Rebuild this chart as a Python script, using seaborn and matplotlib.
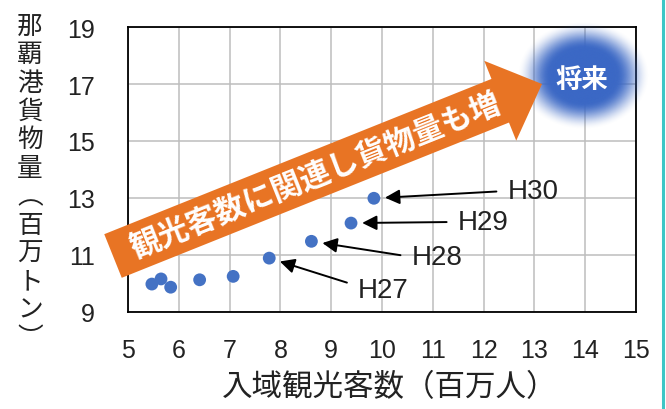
import matplotlib
matplotlib.use("Agg")
import matplotlib.pyplot as plt
import matplotlib.transforms as mtransforms
from matplotlib.colors import to_rgb
from matplotlib.lines import Line2D
from matplotlib.patches import FancyArrow
import numpy as np
import pandas as pd
import seaborn as sns


# tourists entering Okinawa (million) vs Naha port cargo (million t)
visitors = [5.47, 5.65, 5.84, 6.41, 7.07, 7.78, 8.61, 9.39, 9.84]
cargo = [9.98, 10.16, 9.87, 10.13, 10.25, 10.89, 11.48, 12.12, 12.99]

year_labels = ["H27", "H28", "H29", "H30"]
year_index = [5, 6, 7, 8]
year_label_x = [9.53, 10.59, 11.50, 12.48]
year_label_y = [9.77, 10.93, 12.16, 13.25]

x_ticks = list(range(5, 16))
y_ticks = [9, 11, 13, 15, 17, 19]

x_label = "入域観光客数（百万人）"
y_label = ["那", "覇", "港", "貨", "物", "量", "︵", "百", "万", "ト", "ン", "︶"]
arrow_text = "観光客数に関連し貨物量も増"
future_text = "将来"

CJK = "Noto Sans CJK JP"
ORANGE = "#E87424"
BLUE = "#4472C4"


def main() -> None:
    sns.set_theme(style="white")
    plt.rcParams["font.family"] = ["Liberation Sans", CJK]

    fig = plt.figure(figsize=(6.66, 4.10), dpi=100)
    ax = fig.add_axes([0.1922, 0.2366, 0.7628, 0.6951])
    # image pixel coords (origin top-left) for the slide decorations
    px = mtransforms.Affine2D().scale(1 / 100, -1 / 100).translate(0, 4.10) + fig.dpi_scale_trans

    df = pd.DataFrame({"visitors": visitors, "cargo": cargo})
    sns.scatterplot(data=df, x="visitors", y="cargo", ax=ax, color=BLUE, s=85,
                    edgecolor="none", zorder=3)

    ax.set_xticks(x_ticks)
    ax.set_yticks(y_ticks)
    ax.grid(True, color="#BDBDBD", linewidth=1.1)
    ax.set_axisbelow(True)
    ax.tick_params(axis="both", length=0, labelsize=18, colors="#222222")
    ax.tick_params(axis="x", pad=19)
    ax.tick_params(axis="y", pad=24)
    for sp in ax.spines.values():
        sp.set_color("black")
        sp.set_linewidth(1.3)
    ax.set_xlabel("")
    ax.set_ylabel("")

    for lab, i, tx, ty in zip(year_labels, year_index, year_label_x, year_label_y):
        rel_y = 0.65 if lab == "H27" else 0.5
        ax.annotate(
            lab,
            xy=(visitors[i], cargo[i]),
            xytext=(tx, ty),
            fontsize=20,
            color="#222222",
            ha="left",
            va="center",
            zorder=6,
            arrowprops=dict(arrowstyle="-|>", color="black", lw=1.4, shrinkA=6, shrinkB=8,
                            mutation_scale=22, relpos=(0, rel_y)),
        )

    # blurred blue "future" blob
    n = 240
    gx, gy = np.meshgrid(np.linspace(-1, 1, n), np.linspace(-1, 1, n))
    d = np.sqrt(gx ** 2 + gy ** 2)
    a = np.clip((1 - d) / 0.5, 0, 1)
    a = a * a * (3 - 2 * a)
    glow = np.zeros((n, n, 4))
    glow[..., :3] = to_rgb("#3B68C5")
    glow[..., 3] = a
    ax.imshow(glow, extent=(12.66, 15.26, 15.4, 19.2), aspect="auto", zorder=5,
              clip_on=False, interpolation="bilinear")
    ax.set_xlim(5, 15)
    ax.set_ylim(9, 19)

    fig.add_artist(FancyArrow(113, 257, 429, -172, width=47, head_width=86, head_length=45,
                              length_includes_head=True, transform=px, color=ORANGE,
                              linewidth=0, zorder=4))
    fig.text(316, 177, arrow_text, transform=px, rotation=21.8, rotation_mode="anchor",
             ha="center", va="center", color="white", fontsize=22, fontweight="bold",
             family=CJK, zorder=5)
    fig.text(582, 80, future_text, transform=px, ha="center", va="center", color="white",
             fontsize=19, fontweight="bold", family=CJK, zorder=6)

    fig.text(390, 388, x_label, transform=px, ha="center", va="center", fontsize=22,
             color="#222222", family=CJK)
    fig.text(30, 183, "\n".join(y_label), transform=px, ha="center", va="center",
             fontsize=18.5, linespacing=1.12, color="#222222", family=CJK)

    fig.add_artist(Line2D([663, 663], [0, 410], transform=px, color="#3EC6C6", linewidth=2.2))

    fig.savefig("out.png", dpi=100)
    plt.close(fig)


if __name__ == "__main__":
    main()
